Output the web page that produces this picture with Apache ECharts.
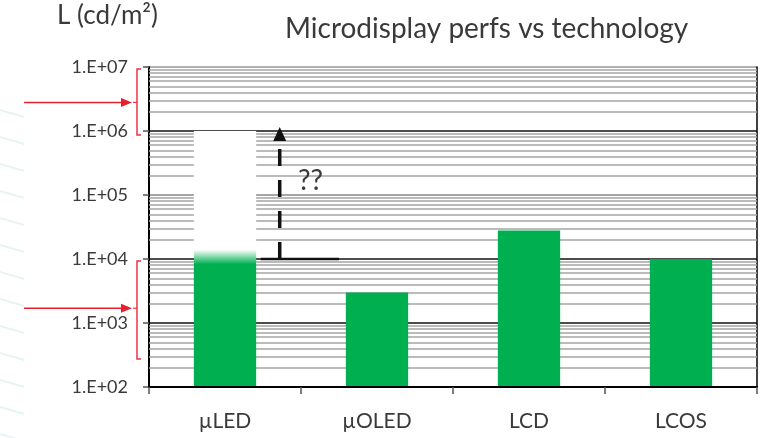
<!DOCTYPE html>
<html><head><meta charset="utf-8">
<script src="https://cdn.jsdelivr.net/npm/echarts@6/dist/echarts.min.js"></script>
<style>html,body{margin:0;padding:0;background:#fff}#c{width:766px;height:438px}</style>
</head><body><div id="c"></div>
<script>
// ---- data ----
const categories = ['µLED', 'µOLED', 'LCD', 'LCOS'];
const luminance = [1e6, 3000, 28000, 10000];
const yTickLabels = {2: '1.E+02', 3: '1.E+03', 4: '1.E+04', 5: '1.E+05', 6: '1.E+06', 7: '1.E+07'};
const yMin = 100, yMax = 1e7;
const uLedFade = [14000, 8300];        // µLED bar fades from white (upper) to green (lower)
const currentLevel = 1e4;              // black baseline of the "??" arrow
const targetLevel = 1e6;               // arrow target
const redRanges = [                    // [low, high, arrow level]
  [1e6, 1e7, 2.8e6],
  [316, 1e4, 1700]
];
const questionLevel = 1.65e5;

// minor grid lines at 2..9 of each decade
const minorGrid = [];
for (let e = 2; e < 7; e++) for (let k = 2; k <= 9; k++) minorGrid.push(k * Math.pow(10, e));

const FONT = 'Lato, "Liberation Sans", sans-serif';
const GREEN = '#00B050';
const logPos = v => Math.log10(v);
const barTop = logPos(luminance[0]), barBot = logPos(yMin), span = barTop - barBot;
const off1 = (barTop - logPos(uLedFade[0])) / span;
const off2 = (barTop - logPos(uLedFade[1])) / span;

const option = {
  animation: false,
  backgroundColor: '#fff',
  title: {
    text: 'Microdisplay perfs vs technology',
    left: 280, top: 10,
    textStyle: {fontFamily: FONT, fontSize: 28, fontWeight: 'normal', color: '#3a3a3a'}
  },
  grid: {left: 149, right: 9, top: 67, bottom: 51},
  xAxis: {
    type: 'category', data: categories, z: 4,
    axisLine: {lineStyle: {color: '#000', width: 2}},
    axisTick: {show: true, length: 7, lineStyle: {color: '#555', width: 1.5}},
    axisLabel: {fontFamily: FONT, fontSize: 21, color: '#3a3a3a', margin: 24}
  },
  yAxis: [{
    type: 'log', logBase: 10, min: yMin, max: yMax,
    axisLine: {show: true, lineStyle: {color: '#000', width: 2}},
    axisTick: {show: true, length: 6, lineStyle: {color: '#555', width: 1.5}},
    axisLabel: {
      fontFamily: FONT, fontSize: 18, color: '#3a3a3a', margin: 21,
      formatter: v => yTickLabels[Math.round(Math.log10(v))] || ''
    },
    splitLine: {show: true, lineStyle: {color: ['#000', '#111', '#111', '#888', '#111', '#999'], width: 1.6}}
  }, {
    type: 'log', logBase: 10, min: yMin, max: yMax, position: 'right',
    axisLine: {show: true, lineStyle: {color: '#000', width: 1.5}},
    axisTick: {show: false}, axisLabel: {show: false}, splitLine: {show: false}
  }],
  series: [{
    type: 'line', data: [], z: 1, silent: true,
    markLine: {
      silent: true, symbol: 'none', animation: false, z: 1,
      label: {show: false},
      lineStyle: {color: '#a4a4a4', width: 1.6, type: 'solid'},
      data: minorGrid.map(v => ({yAxis: v}))
    }
  }, {
    type: 'bar', z: 3, barWidth: '41%',
    data: luminance.map((v, i) => i === 0 ? {
      value: v,
      itemStyle: {color: new echarts.graphic.LinearGradient(0, 0, 0, 1, [
        {offset: 0, color: '#ffffff'},
        {offset: off1, color: '#ffffff'},
        {offset: off2, color: GREEN},
        {offset: 1, color: GREEN}
      ])}
    } : v),
    itemStyle: {color: GREEN}
  }]
};

const chart = echarts.init(document.getElementById('c'));
chart.setOption(option);

const px = (i, v) => chart.convertToPixel({gridIndex: 0}, [i, v]);
const c0 = px(0, currentLevel), c1 = px(1, currentLevel);
const band = c1[0] - c0[0];
const ax = c0[0] + 0.36 * band;
const yCur = c0[1];
const yTarget = px(0, targetLevel)[1];
const gridLeft = 149;

const g = [];
// faint background strokes on the left edge
for (let y = 110; y < 438; y += 27) {
  g.push({type: 'line', shape: {x1: 0, y1: y, x2: 24, y2: y + 7}, style: {stroke: '#e6f5f3', lineWidth: 2}, silent: true});
}
// "L (cd/m²)"
g.push({type: 'text', left: 57, top: 3, style: {text: 'L (cd/m²)', fontFamily: FONT, fontSize: 26, fill: '#3a3a3a'}});
// black horizontal baseline
g.push({type: 'line', shape: {x1: c0[0] + 0.235 * band, y1: yCur, x2: c0[0] + 0.75 * band, y2: yCur}, style: {stroke: '#111', lineWidth: 2.5}, z: 10});
// dashed shaft (drawn from bottom)
g.push({type: 'line', shape: {x1: ax, y1: yCur, x2: ax, y2: yTarget + 10}, style: {stroke: '#111', lineWidth: 3.5, lineDash: [17, 14]}, z: 10});
// arrow head
g.push({type: 'polygon', shape: {points: [[ax, yTarget - 4], [ax - 6.5, yTarget + 10], [ax + 6.5, yTarget + 10]]}, style: {fill: '#111'}, z: 10});
// ??
const q = px(0, questionLevel);
g.push({type: 'text', x: c0[0] + 0.48 * band, y: q[1], style: {text: '??', fontFamily: FONT, fontSize: 28, fill: '#3a3a3a', verticalAlign: 'middle'}, z: 10});
// red arrows and brackets
redRanges.forEach(([lo, hi, lvl]) => {
  const yHi = px(0, hi)[1] + 2, yLo = px(0, lo)[1] + 4;
  const yA = px(0, lvl)[1];
  const bx = gridLeft - 12;
  g.push({type: 'polyline', shape: {points: [[bx + 4, yHi], [bx, yHi], [bx, yLo], [bx + 4, yLo]]}, style: {stroke: '#ee3344', lineWidth: 1.5, fill: null}, z: 10});
  g.push({type: 'line', shape: {x1: bx - 4, y1: yA, x2: bx, y2: yA}, style: {stroke: '#ee3344', lineWidth: 1.2}, z: 10});
  g.push({type: 'line', shape: {x1: 24, y1: yA, x2: bx - 14, y2: yA}, style: {stroke: '#e8202e', lineWidth: 1.5}, z: 10});
  g.push({type: 'polygon', shape: {points: [[bx - 5, yA], [bx - 16, yA - 4.5], [bx - 16, yA + 4.5]]}, style: {fill: '#e8202e'}, z: 10});
});
chart.setOption({graphic: g});
</script></body></html>
